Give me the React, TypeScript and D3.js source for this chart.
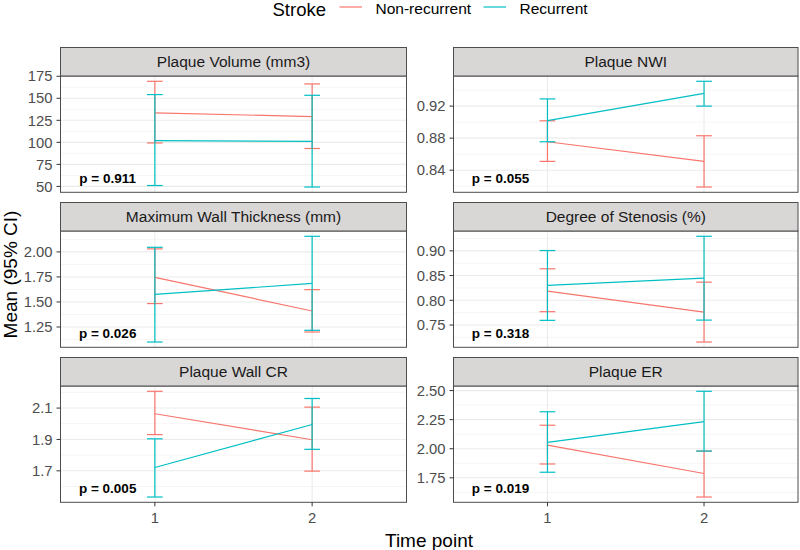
import React from "react";
import * as d3 from "d3";

const panelTitles = [
  "Plaque Volume (mm3)",
  "Plaque NWI",
  "Maximum Wall Thickness (mm)",
  "Degree of Stenosis (%)",
  "Plaque Wall CR",
  "Plaque ER",
];
const timePoints = [1, 2];
const seriesNames = ["Non-recurrent", "Recurrent"];
const pValues = ["p = 0.911", "p = 0.055", "p = 0.026", "p = 0.318", "p = 0.005", "p = 0.019"];

const nonRecMean = [[133.5, 129.2], [0.8755, 0.851], [1.746, 1.41], [0.8186, 0.7763], [2.064, 1.898], [2.031, 1.787]];
const nonRecLower = [[99.3, 93.0], [0.851, 0.819], [1.484, 1.2], [0.777, 0.7157], [1.931, 1.698], [1.869, 1.585]];
const nonRecUpper = [[169.3, 166.3], [0.9017, 0.883], [2.03, 1.623], [0.8637, 0.8367], [2.207, 2.106], [2.202, 1.98]];
const recMean = [[102, 101], [0.902, 0.936], [1.575, 1.685], [0.83, 0.8448], [1.721, 1.995], [2.054, 2.233]];
const recLower = [[51, 49.3], [0.8755, 0.92], [1.1, 1.217], [0.7595, 0.76], [1.533, 1.837], [1.798, 1.98]];
const recUpper = [[154.2, 153.4], [0.929, 0.951], [2.046, 2.156], [0.9006, 0.9294], [1.904, 2.161], [2.318, 2.494]];

const yTicks = [
  [50, 75, 100, 125, 150, 175],
  [0.84, 0.88, 0.92],
  [1.25, 1.5, 1.75, 2.0],
  [0.75, 0.8, 0.85, 0.9],
  [1.7, 1.9, 2.1],
  [1.75, 2.0, 2.25, 2.5],
];
const tickDecimals = [0, 2, 2, 2, 1, 2];

const COLORS = ["#F8766D", "#00BFC4"];
const FONT = "'Liberation Sans', Arial, Helvetica, sans-serif";

const colLeft = [60.5, 453.5];
const colRight = [406.5, 798];
const rowStripTop = [47.5, 202.5, 357.5];
const stripH = 28.5;
const panelH = 116.3;

function Panel({ idx }: { idx: number }) {
  const col = idx % 2;
  const row = Math.floor(idx / 2);
  const x0 = colLeft[col];
  const x1 = colRight[col];
  const sTop = rowStripTop[row];
  const pTop = sTop + stripH;
  const pBot = pTop + panelH;

  const x = d3.scaleLinear().domain([0.4, 2.6]).range([x0, x1]);
  const all = [...nonRecLower[idx], ...nonRecUpper[idx], ...recLower[idx], ...recUpper[idx], ...nonRecMean[idx], ...recMean[idx]];
  const [mn, mx] = d3.extent(all) as [number, number];
  const pad = (mx - mn) * 0.05;
  const y = d3.scaleLinear().domain([mn - pad, mx + pad]).range([pBot, pTop]);

  const ticks = yTicks[idx];
  const step = ticks[1] - ticks[0];
  const minor: number[] = [];
  for (let i = -1; i < ticks.length; i++) {
    const m = ticks[0] + step * (i + 0.5);
    if (m > mn - pad && m < mx + pad) minor.push(m);
  }
  const fmt = d3.format(`.${tickDecimals[idx]}f`);
  const series = [
    { mean: nonRecMean[idx], lo: nonRecLower[idx], hi: nonRecUpper[idx], color: COLORS[0] },
    { mean: recMean[idx], lo: recLower[idx], hi: recUpper[idx], color: COLORS[1] },
  ];
  const line = d3.line<number>().x((_, i) => x(timePoints[i])).y((d) => y(d));
  const capW = 0.05;

  return (
    <g>
      <rect x={x0} y={pTop} width={x1 - x0} height={panelH} fill="#fff" />
      {minor.map((m) => (
        <line key={"mn" + m} x1={x0} x2={x1} y1={y(m)} y2={y(m)} stroke="#F2F2F2" strokeWidth={0.8} />
      ))}
      {ticks.map((t) => (
        <line key={"mj" + t} x1={x0} x2={x1} y1={y(t)} y2={y(t)} stroke="#EBEBEB" strokeWidth={1.1} />
      ))}
      {timePoints.map((t) => (
        <line key={"vx" + t} x1={x(t)} x2={x(t)} y1={pTop} y2={pBot} stroke="#EBEBEB" strokeWidth={1.1} />
      ))}
      {series.map((s, si) => (
        <g key={"s" + si}>
          {timePoints.map((t, i) => (
            <g key={"e" + i} stroke={s.color} strokeWidth={1.2}>
              <line x1={x(t)} x2={x(t)} y1={y(s.lo[i])} y2={y(s.hi[i])} />
              <line x1={x(t - capW)} x2={x(t + capW)} y1={y(s.lo[i])} y2={y(s.lo[i])} />
              <line x1={x(t - capW)} x2={x(t + capW)} y1={y(s.hi[i])} y2={y(s.hi[i])} />
            </g>
          ))}
          <path d={line(s.mean) || ""} fill="none" stroke={s.color} strokeWidth={1.2} />
        </g>
      ))}
      <text x={x(0.7)} y={pBot - 9.6} textAnchor="middle" fontFamily={FONT} fontWeight="bold" fontSize={13.5} fill="#000">
        {pValues[idx]}
      </text>
      <rect x={x0} y={pTop} width={x1 - x0} height={panelH} fill="none" stroke="#4D4D4D" strokeWidth={1} />
      <rect x={x0} y={sTop} width={x1 - x0} height={stripH} fill="#D9D6D6" stroke="#4D4D4D" strokeWidth={1} />
      <text x={(x0 + x1) / 2} y={sTop + stripH / 2 + 5.4} textAnchor="middle" fontFamily={FONT} fontSize={15.5} fill="#1A1A1A">
        {panelTitles[idx]}
      </text>
      {ticks.map((t) => (
        <g key={"yt" + t}>
          <line x1={x0 - 4} x2={x0} y1={y(t)} y2={y(t)} stroke="#333" strokeWidth={1} />
          <text x={x0 - 8} y={y(t) + 5.2} textAnchor="end" fontFamily={FONT} fontSize={14.8} fill="#4D4D4D">
            {fmt(t)}
          </text>
        </g>
      ))}
      {row === 2 &&
        timePoints.map((t) => (
          <g key={"xt" + t}>
            <line x1={x(t)} x2={x(t)} y1={pBot} y2={pBot + 4} stroke="#333" strokeWidth={1} />
            <text x={x(t)} y={pBot + 21} textAnchor="middle" fontFamily={FONT} fontSize={14.8} fill="#4D4D4D">
              {t}
            </text>
          </g>
        ))}
    </g>
  );
}

export default function App() {
  const legendX = [339.5, 483.5];
  return (
    <svg width={800} height={550} style={{ position: "absolute", left: 0, top: 0, background: "#fff" }}>
      <rect x={0} y={0} width={800} height={550} fill="#fff" />
      <text x={272.5} y={15.5} fontFamily={FONT} fontSize={18.5} fill="#000">Stroke</text>
      {seriesNames.map((n, i) => (
        <g key={n}>
          <line x1={legendX[i]} x2={legendX[i] + 22.5} y1={7} y2={7} stroke={COLORS[i]} strokeWidth={1.2} />
          <text x={legendX[i] + 36} y={13.5} fontFamily={FONT} fontSize={15.5} fill="#000">{n}</text>
        </g>
      ))}
      {panelTitles.map((_, i) => (
        <Panel key={i} idx={i} />
      ))}
      <text x={429} y={546.5} textAnchor="middle" fontFamily={FONT} fontSize={19} fill="#000">Time point</text>
      <text transform="translate(16.5,274.5) rotate(-90)" textAnchor="middle" fontFamily={FONT} fontSize={19} fill="#000">
        Mean (95% CI)
      </text>
    </svg>
  );
}
